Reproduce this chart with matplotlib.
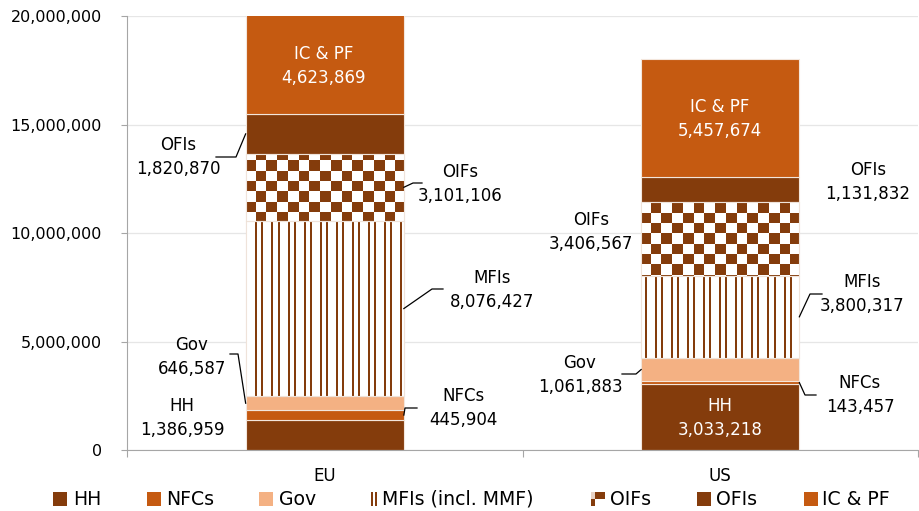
import numpy as np
import matplotlib
matplotlib.use("Agg")
import matplotlib.pyplot as plt
from matplotlib.patches import Rectangle
from matplotlib.colors import ListedColormap
from matplotlib.ticker import FuncFormatter

# ---------------- data ----------------
regions = ["EU", "US"]
sectors = ["HH", "NFCs", "Gov", "MFIs (incl. MMF)", "OIFs", "OFIs", "IC & PF"]
short_names = ["HH", "NFCs", "Gov", "MFIs", "OIFs", "OFIs", "IC & PF"]
eu_values = [1386959, 445904, 646587, 8076427, 3101106, 1820870, 4623869]
us_values = [3033218, 143457, 1061883, 3800317, 3406567, 1131832, 5457674]
y_ticks = [0, 5000000, 10000000, 15000000, 20000000]

# ---------------- style ----------------
DARK = "#843C0C"
ORANGE = "#C55A11"
LIGHT = "#F4B183"
colors = [DARK, ORANGE, LIGHT, "white", "white", DARK, ORANGE]
FONT = "DejaVu Sans"
FS_TICK = 11.5
FS_LAB = 12
FS_LEG = 13.6

plt.rcParams["font.family"] = [FONT]

W, H = 919, 511
AX_L, AX_R, AX_T, AX_B = 127, 918, 16, 450
fig = plt.figure(figsize=(W / 100, H / 100), dpi=100)
ax = fig.add_axes([AX_L / W, 1 - AX_B / H, (AX_R - AX_L) / W, (AX_B - AX_T) / H])

YMAX = y_ticks[-1]
ax.set_xlim(-0.5, 1.5)
ax.set_ylim(0, YMAX)


def fx(px):
    return (px - AX_L) / (AX_R - AX_L)


def fy(py):
    return (AX_B - py) / (AX_B - AX_T)


def px2data(px, py):
    return -0.5 + 2 * fx(px), YMAX * fy(py)


# gridlines
ax.set_axisbelow(True)
ax.yaxis.grid(True, color="#E6E6E6", lw=0.9)

BW = 0.4
xpos = np.arange(len(regions))
data = np.array([eu_values, us_values], dtype=float)
bottoms = np.zeros(len(regions))

# pattern images (one cell per pixel / per checker square across the axes)
npx_w = AX_R - AX_L
cols = np.arange(npx_w)
stripe = np.isin(cols % 16, [0, 1, 6, 7]).astype(float)[None, :]
ncols, nrows = 74, 42
checker = (np.add.outer(np.arange(nrows), np.arange(ncols)) % 2).astype(float)
pat_cmap = ListedColormap(["white", DARK])

mids = {}
for i, name in enumerate(sectors):
    vals = data[:, i]
    bars = ax.bar(xpos, vals, BW, bottom=bottoms, color=colors[i],
                  edgecolor="#F3E6DC", linewidth=0.8, zorder=2)
    if name.startswith("MFIs") or name == "OIFs":
        arr = stripe if name.startswith("MFIs") else checker
        for b in bars:
            im = ax.imshow(arr, cmap=pat_cmap, vmin=0, vmax=1,
                           extent=(-0.5, 1.5, 0, YMAX), aspect="auto",
                           interpolation="nearest", zorder=2.5, origin="upper")
            im.set_clip_path(b)
        ax.bar(xpos, vals, BW, bottom=bottoms, fill=False,
               edgecolor="#EFE3DA", linewidth=0.8, zorder=3)
    for j in range(len(regions)):
        top = min(bottoms[j] + vals[j], YMAX)
        mids[(j, i)] = (bottoms[j] + top) / 2
    bottoms = bottoms + vals

ax.set_ylim(0, YMAX)
ax.set_xlim(-0.5, 1.5)

# axes styling
for s in ["top", "right"]:
    ax.spines[s].set_visible(False)
ax.spines["left"].set_color("#A6A6A6")
ax.spines["bottom"].set_color("#A6A6A6")
ax.set_yticks(y_ticks)
ax.yaxis.set_major_formatter(FuncFormatter(lambda v, p: f"{int(v):,}"))
ax.tick_params(axis="y", length=4, color="#A6A6A6", pad=14, labelsize=FS_TICK)
ax.set_xticks([-0.5, 0.5, 1.5])
ax.set_xticklabels([])
ax.tick_params(axis="x", which="major", length=5, color="#A6A6A6")
ax.set_xticks(xpos, minor=True)
ax.set_xticklabels(regions, minor=True)
ax.tick_params(axis="x", which="minor", length=0, pad=12, labelsize=FS_LAB)

# ---------------- labels ----------------
# (region idx, sector idx, text center px, colour, leader [start px, elbow px], side)
label_specs = [
    (0, 6, (324, 66), "white", None, None),
    (0, 5, (178, 157), "black", [(216, 157), (236, 157)], -1),
    (0, 4, (460, 184), "black", [(422, 183), (413, 183)], 1),
    (0, 3, (492, 290), "black", [(443, 289), (432, 289)], 1),
    (0, 2, (192, 357), "black", [(230, 354), (238, 354)], -1),
    (0, 0, (182, 418), "black", None, None),
    (0, 1, (463, 408), "black", [(417, 408), (405, 408)], 1),
    (1, 6, (720, 119), "white", None, None),
    (1, 5, (868, 182), "black", None, None),
    (1, 4, (591, 232), "black", None, None),
    (1, 3, (862, 294), "black", [(822, 294), (810, 294)], 1),
    (1, 2, (580, 375), "black", [(622, 374), (636, 374)], -1),
    (1, 1, (860, 395), "black", [(816, 395), (805, 395)], 1),
    (1, 0, (720, 418), "white", None, None),
]

for j, i, (tx, ty), col, leader, side in label_specs:
    val = data[j, i]
    ax.text(fx(tx), fy(ty), f"{short_names[i]}\n{int(val):,}",
            transform=ax.transAxes, ha="center", va="center", color=col,
            fontsize=FS_LAB, linespacing=1.4, zorder=5)
    if leader is not None:
        pts = [px2data(*p) for p in leader]
        pts.append((xpos[j] + side * BW / 2, mids[(j, i)]))
        xs, ys = zip(*pts)
        ax.plot(xs, ys, color="black", lw=0.9, zorder=4, clip_on=False)

# ---------------- legend (drawn in figure pixel space) ----------------
leg_marker_x = [53, 147, 259, 371, 591, 697, 804]
leg_text_x = [73, 166, 279, 382, 610, 716, 822]
LEG_YC = 499
MS = 14


def frect(x, y, w, h, color):
    # x,y = top-left in pixels
    fig.patches.append(Rectangle((x / W, 1 - (y + h) / H), w / W, h / H,
                                 facecolor=color, edgecolor="none",
                                 transform=fig.transFigure, figure=fig))


for i, name in enumerate(sectors):
    mx = leg_marker_x[i]
    top = LEG_YC - MS / 2
    if name.startswith("MFIs"):
        frect(mx, top, 2, MS, DARK)
        frect(mx + 4, top, 2, MS, DARK)
    elif name == "OIFs":
        frect(mx, top + MS / 2, 4, MS / 2, DARK)
        frect(mx, top, 4, MS / 2, "#E7D2C4")
        frect(mx + 4, top, MS - 4, MS / 2, DARK)
    else:
        frect(mx, top, MS, MS, colors[i])
    fig.text(leg_text_x[i] / W, 1 - LEG_YC / H, name, ha="left", va="center",
             fontsize=FS_LEG, color="black")

fig.savefig("out.png", dpi=100)
